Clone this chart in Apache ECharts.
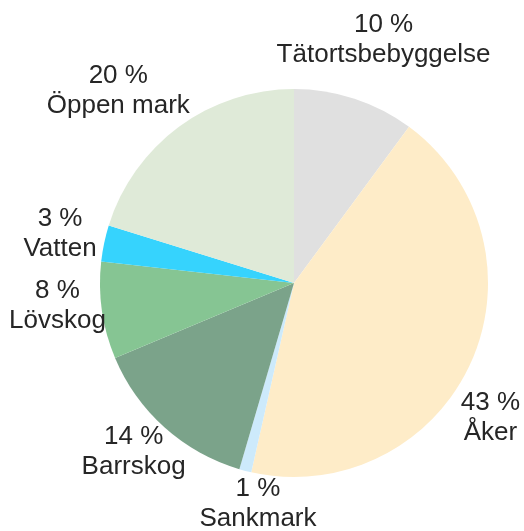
<!DOCTYPE html>
<html>
<head>
<meta charset="utf-8">
<script src="https://cdn.jsdelivr.net/npm/echarts@6/dist/echarts.min.js"></script>
<style>
  html, body { margin: 0; padding: 0; background: #ffffff; }
  #chart { width: 524px; height: 531px; }
</style>
</head>
<body>
<div id="chart"></div>
<script>
// Markanvändning, andel av ytan (%)
const categories = ['Tätortsbebyggelse', 'Åker', 'Sankmark', 'Barrskog', 'Lövskog', 'Vatten', 'Öppen mark'];
const shares = [10, 43, 1, 14, 8, 3, 20];
const sliceColors = ['#e0e0e0', '#feecc8', '#cdeafb', '#7ba38a', '#86c593', '#36d3fd', '#dfead8'];

// Small per-label nudges [dx, dy] so each label sits clear of the pie
const labelNudge = [[15, -16], [-21, 36], [24, -11], [-1, -9], [0, -11], [0, 0], [-34, 0]];

const pieData = categories.map((name, i) => ({
  name: name,
  value: shares[i],
  itemStyle: { color: sliceColors[i] }
}));

const chart = echarts.init(document.getElementById('chart'), null, { renderer: 'canvas' });
chart.setOption({
  backgroundColor: '#ffffff',
  animation: false,
  series: [{
    type: 'pie',
    center: [294, 283],
    radius: 194,
    startAngle: 90,
    clockwise: true,
    avoidLabelOverlap: false,
    data: pieData,
    itemStyle: { borderWidth: 0 },
    emphasis: { disabled: true },
    label: {
      show: true,
      position: 'outside',
      formatter: p => p.value + ' %\n' + p.name,
      fontFamily: '"Liberation Sans", Arial, sans-serif',
      fontSize: 26,
      lineHeight: 30,
      color: '#262626',
      distanceToLabelLine: 0
    },
    labelLine: { show: false, length: 45, length2: 0 },
    labelLayout: function (params) {
      const n = labelNudge[params.dataIndex];
      return { align: 'center', verticalAlign: 'middle', dx: n[0], dy: n[1] };
    }
  }]
});
</script>
</body>
</html>
